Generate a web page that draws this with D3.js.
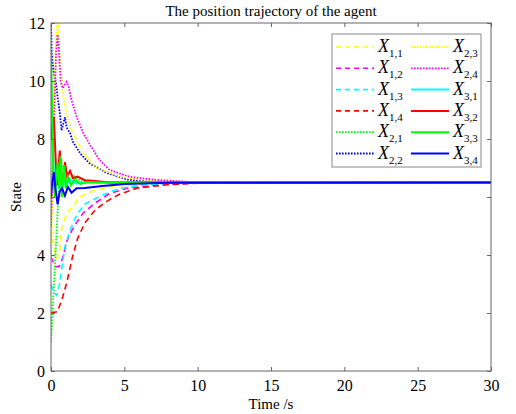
<!DOCTYPE html>
<html>
<head>
<meta charset="utf-8">
<script src="https://cdn.jsdelivr.net/npm/d3@7.9.0/dist/d3.min.js"></script>
<style>
  body { margin: 0; background: #fff; }
  text { font-family: "Liberation Serif", "DejaVu Serif", serif; }
</style>
</head>
<body>
<div id="chart"></div>
<script>
// series: [time, state]
const x11 = [[0,4.9],[0.2,4.3],[0.4,3.85],[0.6,4.2],[0.75,5.0],[1.1,5.45],[1.6,5.72],[1.85,5.95],[2.45,6.14],[3.1,6.24],[4,6.35],[5.5,6.43],[7.5,6.48],[10,6.5],[30,6.5]];
const x12 = [[0,3.93],[0.3,3.6],[0.55,3.6],[0.75,3.83],[1.1,4.5],[1.43,4.86],[1.77,5.14],[2.2,5.45],[3.0,5.79],[4.0,6.12],[5.2,6.3],[7.2,6.41],[9.5,6.47],[12,6.5],[30,6.5]];
const x13 = [[0,3.0],[0.2,2.7],[0.4,2.6],[0.55,2.9],[0.75,3.59],[0.95,4.28],[1.3,4.86],[1.77,5.4],[2.3,5.75],[3.5,6.07],[4.7,6.3],[6.1,6.41],[8,6.47],[11,6.5],[30,6.5]];
const x14 = [[0,2.0],[0.45,2.05],[0.8,2.55],[1.1,3.1],[1.45,3.9],[1.8,4.55],[2.3,5.1],[3.0,5.55],[3.8,5.85],[4.7,6.1],[5.9,6.31],[7.9,6.42],[10,6.48],[13,6.5],[30,6.5]];
const x21 = [[0,1.0],[0.1,2.0],[0.25,3.5],[0.4,5.0],[0.55,6.4],[0.7,7.3],[0.85,6.6],[1.0,7.0],[1.2,6.6],[1.5,6.75],[2,6.55],[3,6.5],[30,6.5]];
const x22 = [[0,12.0],[0.05,11.0],[0.15,10.4],[0.35,9.9],[0.45,9.45],[0.6,8.9],[0.72,8.3],[0.95,8.75],[1.07,8.4],[1.3,8.2],[1.5,7.9],[2.0,7.5],[2.6,7.17],[3.8,6.83],[5.2,6.6],[7,6.53],[9,6.5],[30,6.5]];
const x23 = [[0,3.8],[0.15,7.0],[0.3,11.0],[0.42,12.6],[0.55,11.2],[0.7,10.2],[0.85,9.45],[1.05,8.9],[1.3,8.4],[1.6,8.1],[2.0,7.7],[2.45,7.35],[3.0,7.03],[3.5,6.93],[4.7,6.69],[6.3,6.59],[8,6.54],[10,6.51],[30,6.5]];
const x24 = [[0,5.0],[0.2,8.5],[0.35,11.0],[0.45,11.6],[0.55,11.0],[0.65,10.0],[0.8,9.75],[1.05,9.97],[1.2,9.8],[1.4,9.34],[1.75,8.76],[2.2,8.2],[2.66,7.8],[3.3,7.28],[4.0,6.93],[5.4,6.69],[7.2,6.59],[9.5,6.52],[12,6.5],[30,6.5]];
const x31 = [[0,9.0],[0.1,8.0],[0.2,6.8],[0.3,6.2],[0.45,6.9],[0.6,6.3],[0.8,6.7],[1.0,6.4],[1.3,6.6],[1.7,6.47],[2.5,6.5],[30,6.5]];
const x32 = [[0,8.0],[0.1,8.5],[0.2,8.75],[0.3,7.5],[0.4,6.4],[0.5,6.9],[0.6,7.6],[0.7,6.7],[0.8,6.5],[0.95,7.2],[1.1,6.7],[1.3,6.9],[1.5,6.65],[1.8,6.7],[2.3,6.58],[3.0,6.55],[4,6.5],[30,6.5]];
const x33 = [[0,11.0],[0.08,9.0],[0.15,7.0],[0.25,6.0],[0.35,6.6],[0.45,7.2],[0.55,6.3],[0.65,7.4],[0.75,6.0],[0.9,7.1],[1.0,6.3],[1.15,6.7],[1.35,6.4],[1.6,6.6],[2.0,6.45],[2.5,6.52],[3.5,6.5],[30,6.5]];
const x34 = [[0,6.0],[0.08,6.5],[0.2,6.86],[0.3,6.3],[0.45,5.75],[0.6,6.2],[0.75,6.3],[0.95,6.05],[1.15,6.35],[1.4,6.15],[1.75,6.3],[2.3,6.31],[3.5,6.38],[5,6.45],[8,6.49],[30,6.5]];

const xTicks = [0, 5, 10, 15, 20, 25, 30];
const yTicks = [0, 2, 4, 6, 8, 10, 12];

const series = [
  { sub: "1,1", data: x11, color: "#ffff00", kind: "dash" },
  { sub: "1,2", data: x12, color: "#ff00ff", kind: "dash" },
  { sub: "1,3", data: x13, color: "#00ffff", kind: "dash" },
  { sub: "1,4", data: x14, color: "#ff0000", kind: "dash" },
  { sub: "2,1", data: x21, color: "#00ff00", kind: "dot" },
  { sub: "2,2", data: x22, color: "#0000ff", kind: "dot" },
  { sub: "2,3", data: x23, color: "#ffff00", kind: "dot" },
  { sub: "2,4", data: x24, color: "#ff00ff", kind: "dot" },
  { sub: "3,1", data: x31, color: "#00ffff", kind: "solid" },
  { sub: "3,2", data: x32, color: "#ff0000", kind: "solid" },
  { sub: "3,3", data: x33, color: "#00ff00", kind: "solid" },
  { sub: "3,4", data: x34, color: "#0000ff", kind: "solid" }
];

const W = 516, H = 414;
const margin = { top: 23, right: 25, bottom: 43, left: 51 };
const iw = W - margin.left - margin.right;
const ih = H - margin.top - margin.bottom;

const dashes = { dash: "6,4", dot: "1.6,1.4", solid: null };
const widths = { dash: 1.6, dot: 1.8, solid: 2 };

const svg = d3.select("#chart").append("svg")
  .attr("width", W).attr("height", H);

const g = svg.append("g").attr("transform", `translate(${margin.left},${margin.top})`);

const x = d3.scaleLinear().domain([0, 30]).range([0, iw]);
const y = d3.scaleLinear().domain([0, 12]).range([ih, 0]);

svg.append("defs").append("clipPath").attr("id", "clip")
  .append("rect").attr("width", iw).attr("height", ih);

// lines
const line = d3.line().x(d => x(d[0])).y(d => y(d[1]));
const plot = g.append("g").attr("clip-path", "url(#clip)");
series.forEach(s => {
  plot.append("path")
    .datum(s.data)
    .attr("fill", "none")
    .attr("stroke", s.color)
    .attr("stroke-width", widths[s.kind])
    .attr("stroke-dasharray", dashes[s.kind])
    .attr("d", line);
});

// axes, MATLAB style inward ticks with box
const axisColor = "#666";
function styleAxis(sel) {
  sel.select(".domain").remove();
  sel.selectAll(".tick line").attr("stroke", axisColor);
  sel.selectAll(".tick text").attr("fill", "#000").style("font-size", "16px");
}
g.append("g").attr("transform", `translate(0,${ih})`)
  .call(d3.axisBottom(x).tickValues(xTicks).tickSize(-4).tickPadding(9))
  .call(styleAxis);
g.append("g")
  .call(d3.axisTop(x).tickValues(xTicks).tickSize(-4).tickFormat(""))
  .call(styleAxis);
g.append("g")
  .call(d3.axisLeft(y).tickValues(yTicks).tickSize(-4).tickPadding(6))
  .call(styleAxis);
g.append("g").attr("transform", `translate(${iw},0)`)
  .call(d3.axisRight(y).tickValues(yTicks).tickSize(-4).tickFormat(""))
  .call(styleAxis);
g.append("rect").attr("width", iw).attr("height", ih)
  .attr("fill", "none").attr("stroke", axisColor).attr("stroke-width", 1);

// titles
svg.append("text").attr("x", margin.left + iw / 2).attr("y", 16)
  .attr("text-anchor", "middle").style("font-size", "15px").text("The position trajectory of the agent");
svg.append("text").attr("x", margin.left + iw / 2).attr("y", 409)
  .attr("text-anchor", "middle").style("font-size", "15px").text("Time /s");
svg.append("text").attr("transform", `translate(21,${margin.top + ih / 2}) rotate(-90)`)
  .attr("text-anchor", "middle").style("font-size", "15px").text("State");

// legend
const lg = svg.append("g").attr("transform", "translate(332,34)");
lg.append("rect").attr("width", 149).attr("height", 133)
  .attr("fill", "#fff").attr("stroke", "#888").attr("stroke-width", 1);
series.forEach((s, i) => {
  const col = i < 6 ? 0 : 1;
  const row = i % 6;
  const ox = col === 0 ? 4 : 79;
  const oy = 13 + row * 21.3;
  lg.append("line")
    .attr("x1", ox).attr("x2", ox + 38).attr("y1", oy).attr("y2", oy)
    .attr("stroke", s.color)
    .attr("stroke-width", widths[s.kind])
    .attr("stroke-dasharray", s.kind === "dash" ? "5,4" : dashes[s.kind]);
  const t = lg.append("text").attr("x", ox + 42).attr("y", oy + 5).style("font-size", "18px");
  t.append("tspan").style("font-style", "italic").text("X");
  t.append("tspan").attr("dy", 5).style("font-size", "11px").text(s.sub);
});
</script>
</body>
</html>
